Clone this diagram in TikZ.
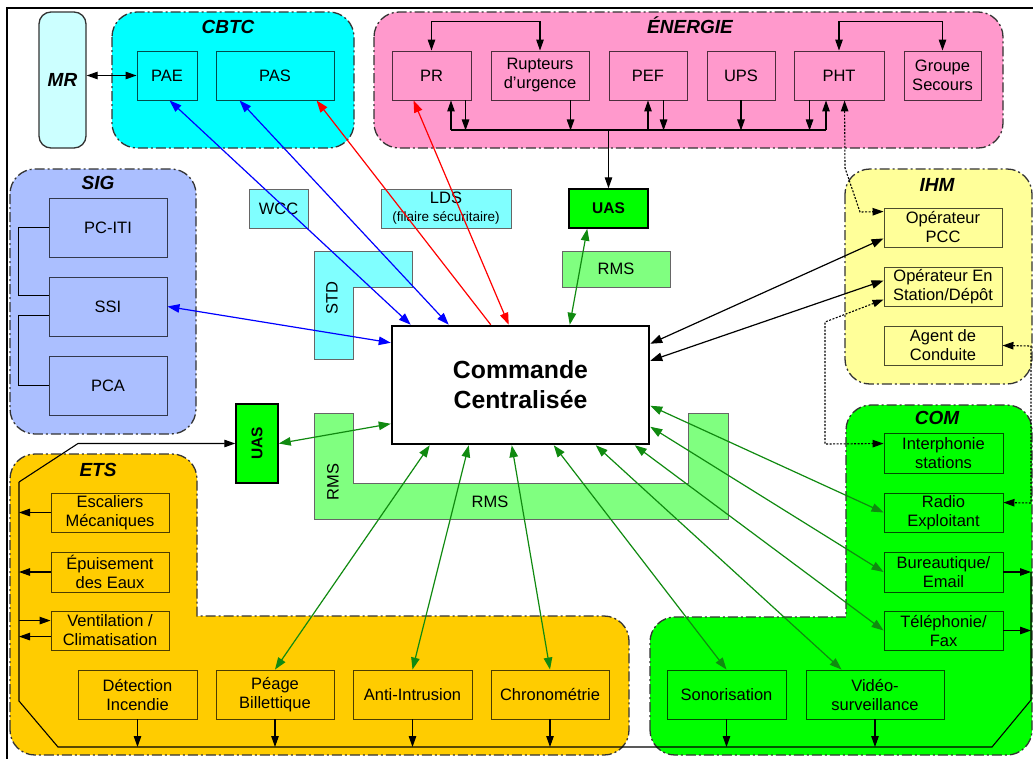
\documentclass[tikz,border=0pt]{standalone}
\usepackage{fontspec}
\setmainfont{Liberation Sans}
\usetikzlibrary{arrows.meta,calc}

\definecolor{cbtcfill}{HTML}{00FFFF}
\definecolor{mrfill}{HTML}{CCFFFF}
\definecolor{enerfill}{HTML}{FF99CC}
\definecolor{sigfill}{HTML}{ABBFFF}
\definecolor{ihmfill}{HTML}{FFFF99}
\definecolor{comfill}{HTML}{00FF00}
\definecolor{etsfill}{HTML}{FFCC00}
\definecolor{lcyan}{HTML}{80FFFF}
\definecolor{lgreen}{HTML}{80FF80}
\definecolor{uasfill}{HTML}{00FF00}
\definecolor{dgreen}{HTML}{108A10}
\definecolor{lblue}{HTML}{0000FF}
\definecolor{lred}{HTML}{FF0000}

\tikzset{
  stip/.tip={Triangle[length=11pt,width=7.5pt]},
  ltip/.tip={Triangle[length=12pt,width=8.5pt]},
  grpline/.style={draw=black!80, line width=1.3pt,
    dash pattern=on 10pt off 3pt on 2pt off 3pt},
  grp/.style={grpline, rounded corners=25pt},
  grptitle/.style={font=\fontsize{19}{22}\selectfont\bfseries\itshape,
    inner sep=0pt, text height=14pt, text depth=0pt},
  bx/.style={draw=black, draw opacity=0.7, line width=0.9pt, inner sep=0pt,
    align=center, minimum height=39pt, font=\fontsize{16.5}{19}\selectfont},
  tall/.style={minimum height=49pt},
  plainbox/.style={draw=black!60, line width=1pt, inner sep=0pt, align=center,
    minimum height=39pt, font=\fontsize{16.5}{19}\selectfont},
  uasbox/.style={draw=black, line width=1.5pt, fill=uasfill, inner sep=0pt},
  uastext/.style={font=\fontsize{15.5}{18}\selectfont\bfseries, inner sep=0pt},
  lbl/.style={inner sep=0pt, font=\fontsize{16.5}{19}\selectfont},
  wire/.style={line width=1.1pt},
  link/.style={line width=1.2pt},
  dots/.style={line width=1.1pt, dash pattern=on 2pt off 1.5pt},
}

\begin{document}
\begin{tikzpicture}[x=1pt, y=-1pt]
\useasboundingbox (0,0) rectangle (1033,758);
\clip (0,0) rectangle (1033,758);
\fill[white] (0,0) rectangle (1033,758);

% outer frame
\draw[line width=2pt] (7,8) rectangle (1050,780);

% ---------- subsystem groups ----------
\draw[grp, fill=cbtcfill] (112,12) rectangle (354,148);
\draw[grp, fill=enerfill] (374,12) rectangle (1003,148);
\draw[grp, fill=sigfill] (10,169) rectangle (196,434);
\draw[grp, fill=ihmfill] (845,169) rectangle (1032,384);
% L-shaped groups: outer corners rounded (r = 25), inner corner square
\draw[grpline, fill=etsfill] (10,730) -- (10,479) .. controls (10,465.2) and (21.2,454) .. (35,454)
  -- (172,454) .. controls (185.8,454) and (197,465.2) .. (197,479)
  -- (197,616) -- (604,616) .. controls (617.8,616) and (629,627.2) .. (629,641)
  -- (629,730) .. controls (629,743.8) and (617.8,755) .. (604,755)
  -- (35,755) .. controls (21.2,755) and (10,743.8) .. (10,730) -- cycle;
\draw[grpline, fill=comfill] (650,730) -- (650,642) .. controls (650,628.2) and (661.2,617) .. (675,617)
  -- (846,617) -- (846,430) .. controls (846,416.2) and (857.2,405) .. (871,405)
  -- (1007,405) .. controls (1020.8,405) and (1032,416.2) .. (1032,430)
  -- (1032,730) .. controls (1032,743.8) and (1020.8,755) .. (1007,755)
  -- (675,755) .. controls (661.2,755) and (650,743.8) .. (650,730) -- cycle;

\node[grptitle] (tcbtc) at (228,26) {CBTC};
\node[grptitle] (tener) at (690,26) {ÉNERGIE};
\node[grptitle] (tsig) at (98,182) {SIG};
\node[grptitle] (tihm) at (937,184) {IHM};
\node[grptitle] (tcom) at (937,417) {COM};
\node[grptitle] (tets) at (98,469) {ETS};

% MR
\node[draw=black!80, line width=1.3pt, fill=mrfill, rounded corners=12pt,
  minimum width=47pt, minimum height=136pt, inner sep=0pt,
  font=\fontsize{19}{22}\selectfont\bfseries\itshape] (mr) at (62.5,80) {MR};

% CBTC
\node[bx, tall, minimum width=60pt] (pae) at (167,75.5) {PAE};
\node[bx, tall, minimum width=118pt] (pas) at (275,75.5) {PAS};

% ÉNERGIE
\node[bx, tall, minimum width=79pt] (pr) at (431.5,75.5) {PR};
\node[bx, tall, minimum width=98pt] (rupt) at (540,75.5) {Rupteurs\\d’urgence};
\node[bx, tall, minimum width=78pt] (pef) at (648,75.5) {PEF};
\node[bx, tall, minimum width=68pt] (ups) at (741,75.5) {UPS};
\node[bx, tall, minimum width=90pt] (pht) at (839,75.5) {PHT};
\node[bx, tall, minimum width=77pt] (groupe) at (942.5,75.5) {Groupe\\Secours};

% SIG
\node[bx, minimum width=118pt, minimum height=59pt] (pciti) at (108,227.5) {PC-ITI};
\node[bx, minimum width=118pt, minimum height=59pt] (ssi) at (108,306.5) {SSI};
\node[bx, minimum width=118pt, minimum height=59pt] (pca) at (108,385.5) {PCA};

% transmission supports
\node[plainbox, fill=lcyan, minimum width=59pt] (wcc) at (278.5,208.5) {WCC};
\node[plainbox, fill=lcyan, minimum width=130pt] (lds) at (446,208.5)
  {LDS\\[-1pt]{\fontsize{13.5}{15}\selectfont (filaire sécuritaire)}};
\draw[draw=black!60, line width=1pt, fill=lcyan] (314,251) -- (412,251) -- (412,287)
  -- (353,287) -- (353,359) -- (314,359) -- cycle;
\node[lbl, rotate=90] (std) at (332,298) {STD};
\node[plainbox, fill=lgreen, minimum width=108pt, minimum height=36pt] (rmst) at (616,269) {RMS};
\draw[draw=black!60, line width=1pt, fill=lgreen] (314,413) -- (353,413) -- (353,483)
  -- (688,483) -- (688,413) -- (728,413) -- (728,519) -- (314,519) -- cycle;
\node[lbl, rotate=90] (rmsl) at (333,482) {RMS};
\node[lbl] (rmsb) at (490,502) {RMS};

\node[uasbox, uastext, minimum width=79pt, minimum height=39pt] (uast) at (608.5,208.5) {UAS};
\node[uasbox, minimum width=42pt, minimum height=79pt] (uasl) at (257,443.5) {};
\node[uastext, rotate=90] (uasltxt) at (uasl.center) {UAS};

% central node
\node[draw=black, line width=2.5pt, fill=white, minimum width=257pt, minimum height=118pt,
  inner sep=0pt, align=center, font=\fontsize{24.8}{30}\selectfont\bfseries]
  (cc) at (520.5,385) {Commande\\Centralisée};

% IHM
\node[bx, minimum width=118pt] (pcc) at (943,227.5) {Opérateur\\PCC};
\node[bx, minimum width=118pt] (station) at (943,286.5) {Opérateur En\\Station/Dépôt};
\node[bx, minimum width=118pt] (agent) at (943,345.5) {Agent de\\Conduite};

% COM
\node[bx, minimum width=119pt, minimum height=40pt] (inter) at (943.5,453) {Interphonie\\stations};
\node[bx, minimum width=119pt] (radio) at (943.5,512.5) {Radio\\Exploitant};
\node[bx, minimum width=119pt, minimum height=40pt] (bur) at (943.5,572) {Bureautique/\\Email};
\node[bx, minimum width=119pt] (tel) at (943.5,630.5) {Téléphonie/\\Fax};
\node[bx, tall, minimum width=119pt] (sono) at (726.5,694.5) {Sonorisation};
\node[bx, tall, minimum width=138pt] (video) at (875,694.5) {Vidéo-\\surveillance};

% ETS
\node[bx, minimum width=118pt] (esc) at (110,512.5) {Escaliers\\Mécaniques};
\node[bx, minimum width=118pt, minimum height=40pt] (epu) at (110,572) {Épuisement\\des Eaux};
\node[bx, minimum width=118pt] (vent) at (110,630.5) {Ventilation /\\Climatisation};
\node[bx, tall, minimum width=119pt] (det) at (137.5,694.5) {Détection\\Incendie};
\node[bx, tall, minimum width=118pt] (peage) at (275,694.5) {Péage\\Billettique};
\node[bx, tall, minimum width=119pt] (anti) at (412.5,694.5) {Anti-Intrusion};
\node[bx, tall, minimum width=118pt] (chrono) at (550,694.5) {Chronométrie};

% ---------- local wiring ----------
\draw[wire, stip-stip] (mr.east |- pae.west) -- (pae.west);

% energy bus
\coordinate (eb1) at (451,130);
\coordinate (eb2) at (826,130);
\draw[wire] (eb1) -- (eb2);
\draw[wire, -stip] (eb1) -- (pr.south -| eb1);
\draw[wire, -stip] ($(pr.south west)+(74,0)$) -- ++(0,30);
\draw[wire, -stip] ($(rupt.south west)+(80,0)$) -- ++(0,30);
\draw[wire, -stip] ($(pef.south)+(0,30)$) -- (pef.south);
\draw[wire, -stip] ($(pef.south west)+(55,0)$) -- ++(0,30);
\draw[wire, -stip] (ups.south) -- ++(0,30);
\draw[wire, -stip] ($(pht.south west)+(16,0)$) -- ++(0,30);
\draw[wire, -stip] (eb2) -- (pht.south -| eb2);
\draw[wire, -stip] (uast.north |- eb1) -- (uast.north);
\draw[wire, stip-stip] (pr.north) -- ++(0,-29) -| (rupt.north);
\draw[wire, stip-stip] (pht.north) -- ++(0,-29) -| (groupe.north);

% SIG links
\draw[wire] (pciti.west) -- ++(-30,0) |- ($(ssi.north west)+(0,19)$);
\draw[wire] ($(ssi.north west)+(0,39)$) -- ++(-30,0) |- (pca.west);

% ETS / COM bus
\coordinate (bl) at (19,482);
\coordinate (bb) at (58,747);
\coordinate (br) at (1031,572);
\draw[wire, -stip] (bl) -- (78,443.5) -- (uasl.west);
\draw[wire] (bl) -- (19,701) -- (bb) -- (992,747) -- (1031,700) -- (br);
\draw[wire, -stip] (esc.west) -- (esc.west -| bl);
\draw[wire, -stip] (epu.west) -- (epu.west -| bl);
\coordinate (v1) at ($(vent.north west)+(0,10)$);
\coordinate (v2) at ($(vent.north west)+(0,26)$);
\draw[wire, -stip] (v1 -| bl) -- (v1);
\draw[wire, -stip] (v2) -- (v2 -| bl);
\foreach \n in {det,peage,anti,chrono,sono,video}
  \draw[wire, -stip] (\n.south) -- (\n.south |- bb);
\draw[wire, -stip] (bur.east) -- (bur.east -| br);
\draw[wire, -stip] (tel.east) -- (tel.east -| br);

% dotted links
\draw[dots, stip-stip] ($(pht.south west)+(51,0)$) -- (845,168) -- (860,212) -- ($(pcc.north west)+(0,4)$);
\draw[dots, stip-stip] ($(station.north west)+(0,33)$) -- (825,322) -- (825,444) -- ($(inter.north west)+(0,11)$);
\draw[dots, stip-stip] (agent.east) -- (1031,346) -- (1031,503) -- ($(radio.north east)+(0,10)$);

% ---------- links to the central node ----------
\draw[link, lblue, ltip-ltip] ($(pae.south west)+(33,0)$) -- ($(cc.north west)+(20,0)$);
\draw[link, lblue, ltip-ltip] ($(pas.south west)+(24,0)$) -- ($(cc.north west)+(58,0)$);
\draw[link, lblue, ltip-ltip] (ssi.east) -- ($(cc.north west)+(0,18)$);
\draw[link, lred, ltip-] ($(pas.south west)+(101,0)$) -- ($(cc.north west)+(100,0)$);
\draw[link, lred, ltip-ltip] ($(pr.south west)+(22,0)$) -- ($(cc.north west)+(118,0)$);

\draw[link, dgreen, ltip-ltip] ($(uast.south west)+(19,0)$) -- ($(cc.north west)+(179,0)$);
\draw[link, dgreen, ltip-ltip] (uasl.east) -- ($(cc.north west)+(0,99)$);
\draw[link, dgreen, ltip-ltip] ($(cc.south west)+(39,0)$) -- (peage.north);
\draw[link, dgreen, ltip-ltip] ($(cc.south west)+(78,0)$) -- (anti.north);
\draw[link, dgreen, ltip-ltip] ($(cc.south west)+(121,0)$) -- (chrono.north);
\draw[link, dgreen, ltip-ltip] ($(cc.south west)+(163,0)$) -- (sono.north);
\draw[link, dgreen, ltip-ltip] ($(cc.south west)+(205,0)$) -- ($(video.north west)+(36,0)$);
\draw[link, dgreen, ltip-ltip] ($(cc.south west)+(244,0)$) -- (tel.west);
\draw[link, dgreen, ltip-ltip] ($(cc.north east)+(0,81)$) -- (radio.west);
\draw[link, dgreen, ltip-ltip] ($(cc.north east)+(0,102)$) -- (bur.west);

\draw[link, ltip-ltip] ($(cc.north east)+(0,19)$) -- ($(pcc.south west)+(0,-9)$);
\draw[link, ltip-ltip] ($(cc.north east)+(0,36)$) -- ($(station.north west)+(0,14)$);
\end{tikzpicture}
\end{document}
